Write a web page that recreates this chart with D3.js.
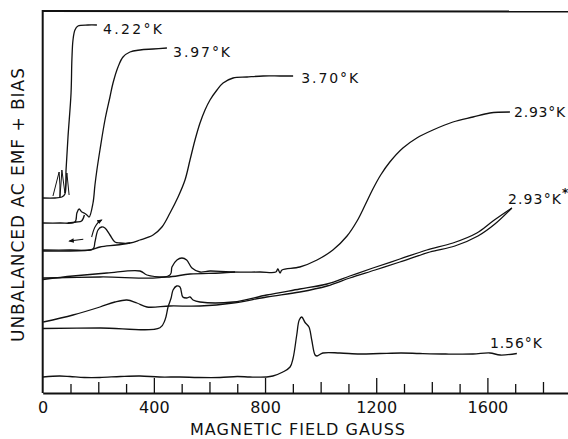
<!DOCTYPE html>
<html>
<head>
<meta charset="utf-8">
<script src="https://cdn.jsdelivr.net/npm/d3@7"></script>
<style>
  body { margin: 0; background: #fff; }
  svg text { font-family: 'DejaVu Sans', sans-serif; fill: #111; }
  .trace { fill: none; stroke: #111; stroke-width: 1.3px; stroke-linejoin: round; }
</style>
</head>
<body>
<svg id="chart" width="568" height="439"></svg>
<script>
// field in gauss, signal in chart units above the baseline (arbitrary)
const trace422 = [[1,195],[44,195],[69,196],[80,199],[84,223],[91,256],[102,300],[105,333],[109,353],[116,363],[127,367],[163,368],[195,368]];
const trace422Back = [[37,197],[48,209],[59,221],[62,208],[62,196],[66,210],[69,223],[77,206],[80,200],[84,212],[87,220],[91,209],[95,198]];

const trace397 = [[1,170],[62,170],[116,171],[123,180],[131,184],[141,181],[149,180],[159,178],[167,176],[181,190],[188,208],[195,223],[206,243],[224,273],[242,296],[253,310],[271,326],[289,336],[314,341],[350,343],[397,344],[447,345]];
const trace397Back = [[150,178],[140,172],[120,171],[90,170]];

const trace370 = [[1,143],[98,143],[181,144],[188,151],[199,163],[212,166],[224,165],[242,158],[260,151],[278,150],[314,150],[350,153],[397,158],[429,166],[458,180],[487,196],[512,213],[530,233],[548,253],[566,270],[584,283],[602,293],[627,303],[649,310],[685,315],[735,316],[793,317],[854,317],[901,317]];
const trace370Back = [[1,142],[169,143],[206,146],[266,148],[314,150]];

const trace293 = [[1,115],[206,116],[458,118],[465,126],[483,133],[501,135],[518,133],[537,125],[566,121],[602,122],[674,121],[782,121],[839,121],[846,124],[854,120],[861,123],[925,126],[987,133],[1044,143],[1095,157],[1131,172],[1160,188],[1188,204],[1216,218],[1249,231],[1296,245],[1346,255],[1404,263],[1476,271],[1548,276],[1609,280],[1681,281]];
const trace293Back = [[1,113.5],[109,117],[231,120],[350,122],[375,118],[447,116],[530,119],[638,120],[692,121]];

const trace293s = [[1,64.5],[206,65],[422,65.3],[440,73],[451,86],[462,95],[469,103],[482,107],[494,106],[504,96],[518,95],[530,96],[541,93],[566,91],[685,91],[806,98],[925,104],[1023,109],[1105,117],[1188,125],[1285,134],[1382,143],[1476,150],[1562,160],[1620,172],[1688,185]];
const trace293sBack = [[1688,185],[1627,169],[1566,157],[1483,147],[1393,141],[1285,131],[1196,123],[1105,115],[1023,107],[925,101],[806,96],[685,90],[566,87],[458,87],[375,86],[339,90],[303,93],[260,91],[206,86],[109,78],[2,71]];

const trace156 = [[1,16],[60,17],[98,16.5],[150,15.5],[206,15.5],[280,16.5],[350,17],[420,16],[494,16],[560,15.5],[638,15.5],[700,16.5],[746,16],[806,16],[828,17],[864,21],[890,26],[901,35],[914,58],[923,73],[932,76],[944,70.5],[958,66],[968,53],[980,38],[987,37],[1008,40],[1069,40],[1140,39],[1213,39.5],[1290,40],[1357,39.5],[1450,39],[1548,39],[1609,40],[1646,38],[1706,39.5]];

const smoothTraces = [trace422, trace397, trace397Back, trace370, trace370Back,
                      trace293, trace293Back, trace293s, trace293sBack, trace156];

// curve labels: text, field at left edge, signal at middle, drawn width
const labelText = ['4.22°K', '3.97°K', '3.70°K', '2.93°K', '2.93°K', '1.56°K'];
const labelField = [217, 469, 930, 1696, 1674, 1609];
const labelSignal = [364, 341, 315, 281, 194, 50];
const labelWidth = [59, 57, 57, 51, 53, 52];

const xTickLabels = [0, 400, 800, 1200, 1600];

const svg = d3.select('#chart');
const x = d3.scaleLinear().domain([0, 1890]).range([42.7, 568]);
const y = d3.scaleLinear().domain([0, 383]).range([393, 10]);

// frame: top and left borders
svg.append('line').attr('x1', x(0)).attr('x2', 568).attr('y1', 11).attr('y2', 11.5)
  .attr('stroke', '#111').attr('stroke-width', 2);
svg.append('line').attr('x1', x(0)).attr('x2', x(0)).attr('y1', 10).attr('y2', y(0))
  .attr('stroke', '#111').attr('stroke-width', 2);

// bottom axis with inward ticks of three lengths
const xAxis = d3.axisBottom(x)
  .tickValues(d3.range(0, 1900, 100))
  .tickSizeInner(-9)
  .tickSizeOuter(0)
  .tickPadding(8.6)
  .tickFormat(d => xTickLabels.includes(d) ? d : '');

const gx = svg.append('g').attr('transform', `translate(0,${y(0)})`).call(xAxis);
gx.select('.domain').attr('stroke', '#111').attr('stroke-width', 2);
gx.selectAll('.tick line')
  .attr('stroke', '#111').attr('stroke-width', 1.3)
  .attr('y2', d => d % 400 === 0 ? -15 : (d % 200 === 0 ? -11 : -9))
  .filter(d => d === 0).remove();
gx.selectAll('.tick text')
  .style('font-family', "'DejaVu Sans', sans-serif")
  .style('font-size', '16px').attr('fill', '#111');

svg.append('text')
  .attr('x', 190).attr('y', 435)
  .attr('textLength', 215).attr('lengthAdjust', 'spacing')
  .style('font-size', '16px')
  .text('MAGNETIC FIELD GAUSS');

svg.append('text')
  .attr('transform', 'translate(24,205) rotate(-90)')
  .attr('text-anchor', 'middle')
  .attr('textLength', 274).attr('lengthAdjust', 'spacing')
  .style('font-size', '17px')
  .text('UNBALANCED AC EMF + BIAS');

// traces
const smooth = d3.line().x(d => x(d[0])).y(d => y(d[1])).curve(d3.curveCatmullRom.alpha(0.5));
const plain = d3.line().x(d => x(d[0])).y(d => y(d[1]));
svg.append('g').selectAll('path')
  .data(smoothTraces)
  .join('path')
  .attr('class', 'trace')
  .attr('d', smooth);

// small hysteresis strokes at the foot of the 4.22 K step
svg.append('path')
  .attr('class', 'trace')
  .style('stroke-width', '1px')
  .attr('d', plain(trace422Back));

// arrows marking sweep direction on the 3.70 K trace
svg.append('defs').append('marker')
  .attr('id', 'head')
  .attr('viewBox', '0 -5 10 10')
  .attr('refX', 8).attr('refY', 0)
  .attr('markerWidth', 5).attr('markerHeight', 5)
  .attr('orient', 'auto')
  .append('path').attr('d', 'M0,-4L10,0L0,4Z').attr('fill', '#111');

const arrowLeft = [[146, 153.7], [96, 152]];
const arrowCurl = [[176, 156], [186, 166], [200, 171], [212, 173]];
const arrowLine = d3.line().x(d => x(d[0])).y(d => y(d[1])).curve(d3.curveBasis);
[arrowLeft, arrowCurl].forEach(a => {
  svg.append('path')
    .attr('d', arrowLine(a))
    .attr('fill', 'none').attr('stroke', '#111').attr('stroke-width', 1.1)
    .attr('marker-end', 'url(#head)');
});

// curve labels
svg.append('g').selectAll('text')
  .data(labelText)
  .join('text')
  .attr('x', (d, i) => x(labelField[i]))
  .attr('y', (d, i) => y(labelSignal[i]))
  .attr('dy', '0.36em')
  .style('font-size', '14px')
  .attr('textLength', (d, i) => labelWidth[i])
  .attr('lengthAdjust', 'spacing')
  .text(d => d);

// the starred run
svg.append('text')
  .attr('x', x(labelField[4]) + labelWidth[4] + 1)
  .attr('y', y(labelSignal[4]) - 2)
  .style('font-size', '12px')
  .style('font-weight', 'bold')
  .text('*');
</script>
</body>
</html>
